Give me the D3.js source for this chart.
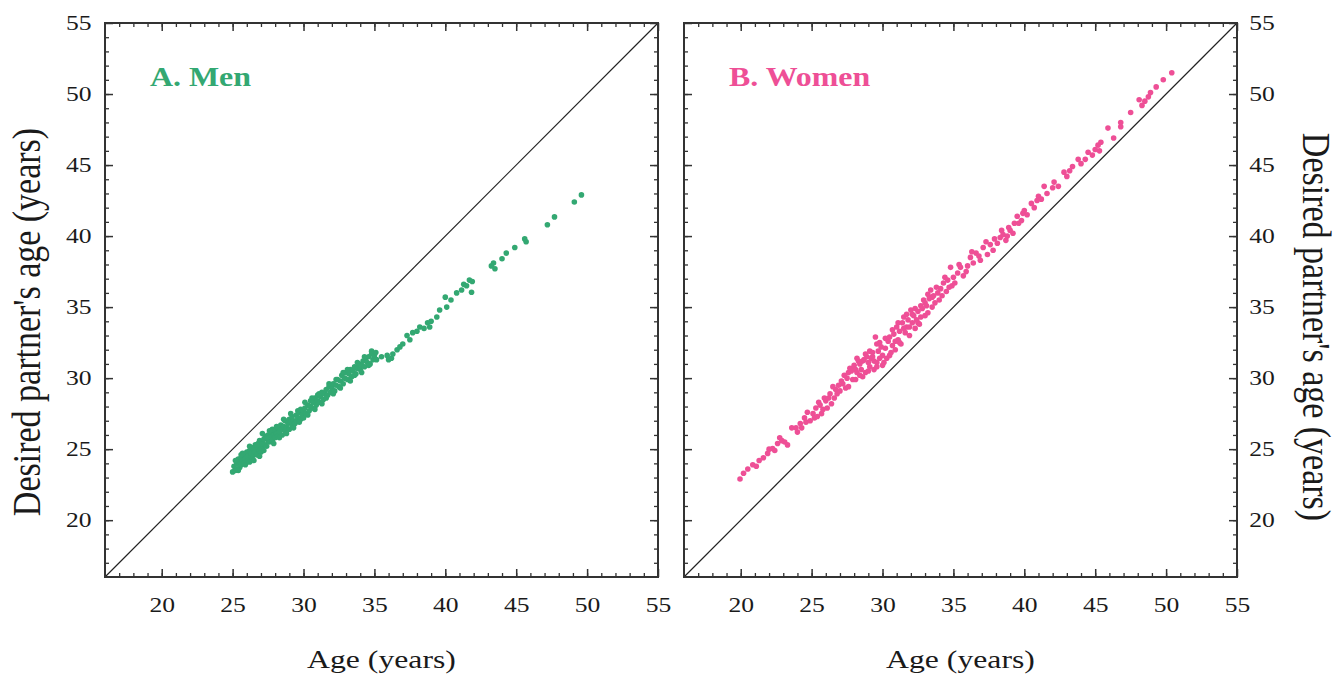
<!DOCTYPE html>
<html>
<head>
<meta charset="utf-8">
<script src="https://cdn.jsdelivr.net/npm/d3@7"></script>
<style>
  body { margin: 0; background: #fff; }
  svg { display: block; }
  text { font-family: "Liberation Serif", "Times New Roman", serif; fill: #1a1a1a; }
</style>
</head>
<body>
<div id="chart"></div>
<script>
// age of respondent, desired partner age
var menData = [
  [25.0,23.4],[25.1,23.8],[25.2,23.5],[25.3,24.0],[25.3,23.6],[25.4,24.3],[25.5,23.7],[25.5,24.1],
  [25.6,24.4],[25.6,23.9],[25.7,24.2],[25.8,24.6],[25.8,24.0],[25.9,24.3],[26.0,24.8],[26.0,24.1],[25.7,24.7],
  [26.1,24.5],[26.1,24.2],[26.2,24.9],[26.3,24.4],[26.3,24.7],[26.4,25.1],[26.4,24.3],[26.5,24.6],[26.5,25.0],
  [26.6,24.8],[26.6,25.3],[26.7,24.6],[26.8,25.0],[26.8,25.4],[26.9,24.9],[27.0,25.2],[27.0,24.8],[26.9,25.6],
  [27.1,25.4],[27.1,25.0],[27.2,25.7],[27.3,25.3],[27.3,25.9],[27.4,25.2],[27.5,25.6],[27.5,26.0],[27.1,26.1],
  [27.6,25.5],[27.7,25.9],[27.7,26.2],[27.8,25.6],[27.9,26.0],[28.0,25.8],[28.0,26.3],[27.8,26.4],
  [28.1,26.1],[28.2,25.9],[28.2,26.5],[28.3,26.2],[28.4,26.7],[28.5,26.0],[28.5,26.4],
  [28.6,26.6],[28.7,26.3],[28.7,27.0],[28.8,26.5],[28.9,26.8],[29.0,26.4],[29.0,27.1],
  [29.1,26.9],[29.2,26.6],[29.2,27.3],[29.3,27.0],[29.4,26.8],[29.5,27.4],[29.5,27.0],
  [29.6,27.2],[29.7,27.6],[29.8,27.1],[29.8,27.8],[29.9,27.4],[30.0,27.7],[30.0,27.2],
  [30.1,27.9],[30.2,27.5],[30.3,28.1],[30.4,27.7],[30.5,28.0],[30.5,28.4],
  [30.6,27.9],[30.7,28.3],[30.8,28.6],[30.9,28.1],[31.0,28.4],[31.0,28.8],
  [31.1,28.3],[31.2,28.7],[31.3,29.0],[31.4,28.5],[31.5,28.9],
  [31.6,29.2],[31.7,28.8],[31.8,29.4],[31.9,29.0],[32.0,29.3],
  [32.1,29.6],[32.2,29.1],[32.3,29.5],[32.4,29.9],[32.5,29.4],
  [32.6,29.8],[32.7,30.2],[32.8,29.6],[32.9,30.0],[33.0,30.4],
  [33.1,29.9],[33.2,30.3],[33.3,30.6],[33.4,30.1],[33.5,30.5],
  [33.6,30.8],[33.7,30.3],[33.8,30.7],[33.9,31.0],[34.0,30.6],
  [34.1,30.9],[34.2,31.2],[34.3,30.8],[34.4,31.4],[34.5,31.1],
  [34.6,31.5],[34.7,31.0],[34.8,31.7],[34.9,31.3],[35.0,31.6],
  [25.2,24.2],[25.4,23.5],[25.6,24.6],[25.9,23.9],[26.2,24.1],[26.2,25.2],[26.5,24.2],[26.7,25.3],
  [26.9,24.5],[27.2,24.9],[27.4,25.8],[27.6,26.3],[27.9,25.4],[28.1,26.6],[28.3,25.8],[28.6,27.1],
  [28.8,26.1],[29.1,27.5],[29.3,26.5],[29.6,27.7],[29.7,26.9],[30.1,28.3],[30.3,27.4],[30.6,28.6],
  [30.8,27.8],[31.1,28.9],[31.3,28.2],[31.6,28.6],[31.8,29.6],[32.1,28.9],[32.3,29.9],[32.6,29.3],
  [32.8,30.4],[33.1,30.6],[33.3,29.8],[33.6,30.2],[33.8,31.1],[34.1,30.4],[34.3,31.5],[34.6,30.9],
  [34.8,31.9],[35.1,31.8],
  [35.15,31.3],[35.5,31.5],[35.9,31.6],[36.0,31.3],[36.2,31.4],[36.3,31.7],[36.6,32.0],[36.8,32.2],
  [37.0,32.4],[37.3,33.0],[37.5,32.7],[37.7,33.2],[38.0,33.3],[38.2,33.6],[38.5,33.5],[38.75,33.9],
  [38.9,33.6],[39.0,34.0],[39.4,34.3],[39.6,34.8],[40.1,35.0],[40.0,35.7],[40.4,35.5],[40.8,36.0],
  [41.15,36.2],[41.3,36.6],[41.7,36.9],[41.85,36.05],[41.9,36.8],[41.5,36.5],[43.25,37.9],[43.5,37.7],
  [43.4,38.1],[44.0,38.4],[44.3,38.8],[44.9,39.2],[45.6,39.8],[45.7,39.6],[47.2,40.8],[47.7,41.35],
  [49.1,42.4],[49.6,42.9]
];

var womenData = [
  [19.95,22.9],[20.2,23.3],[20.5,23.6],[20.85,23.9],[21.1,23.8],[21.3,24.2],[21.6,24.4],[21.9,24.7],
  [22.0,25.0],[22.25,25.05],[22.4,24.9],[22.6,25.4],[22.75,25.8],[22.9,25.6],[23.1,25.5],[23.3,25.3],
  [23.6,26.5],[23.9,26.5],[24.0,26.2],[24.2,26.8],[24.3,26.5],[24.5,27.2],[24.6,26.9],[24.7,27.6],
  [24.9,27.0],[25.1,27.5],[25.2,27.2],[25.3,27.9],[25.4,27.3],[25.5,28.3],[25.6,28.1],[25.7,27.5],
  [25.8,27.8],[25.9,28.6],[26.0,28.4],[26.1,27.9],[26.2,28.6],[26.3,28.9],[26.4,28.2],[26.5,29.4],
  [26.6,28.6],[26.7,29.2],[26.8,28.9],[26.9,29.5],[27.0,29.1],[27.1,29.8],[27.2,29.6],[27.3,30.2],
  [27.4,29.3],[27.5,30.0],[27.6,29.4],[27.6,30.4],[27.7,30.7],[27.8,30.5],[27.9,29.9],[27.9,30.7],
  [28.0,30.9],[28.1,29.9],[28.1,30.6],[28.2,30.4],[28.2,31.4],[28.3,31.2],[28.4,31.0],[28.4,30.2],
  [28.5,30.6],[28.6,30.1],[28.6,31.2],[28.7,31.3],[28.8,30.4],[28.8,31.7],[28.9,31.5],[29.0,31.1],
  [29.0,30.5],[29.1,30.8],[29.1,31.9],[29.2,31.4],[29.3,31.8],[29.3,31.5],[29.4,30.6],[29.4,31.2],
  [29.5,32.9],[29.6,31.1],[29.6,32.4],[29.6,30.8],[29.7,31.9],[29.8,31.4],[29.8,32.5],[29.9,32.2],
  [30.0,31.6],[30.0,30.9],[30.1,31.1],[30.2,32.1],[30.2,32.8],[30.3,31.4],[30.4,32.6],[30.5,32.9],
  [30.5,31.6],[30.6,31.8],[30.7,32.3],[30.7,33.4],[30.8,33.1],[30.9,32.0],[30.9,32.6],[31.0,33.6],
  [31.1,32.7],[31.1,33.9],[31.2,33.3],[31.2,32.5],[31.3,32.4],[31.4,33.9],[31.5,34.3],[31.5,33.5],
  [31.6,33.2],[31.7,33.6],[31.7,34.5],[31.8,34.1],[31.9,33.0],[31.9,33.6],[32.0,34.8],[32.1,33.9],
  [32.1,34.5],[32.2,34.4],[32.3,33.5],[32.3,34.9],[32.4,34.1],[32.5,34.7],[32.5,33.9],[32.6,33.8],
  [32.7,34.3],[32.7,35.1],[32.8,34.9],[32.9,35.5],[33.0,34.4],[33.0,35.3],[33.1,35.1],[33.2,34.6],
  [33.2,35.9],[33.3,35.6],[33.4,36.2],[33.5,35.0],[33.5,35.7],[33.6,35.8],[33.7,35.3],[33.8,36.4],
  [33.9,36.0],[34.0,35.5],[34.1,36.3],[34.2,35.8],[34.3,36.7],[34.4,37.1],[34.5,36.1],[34.6,36.9],
  [34.7,36.4],[34.8,37.8],[34.9,36.5],[35.0,37.1],[35.1,36.7],[35.3,37.4],[35.4,38.0],[35.5,37.8],
  [35.7,37.2],[35.9,37.5],[36.0,37.9],[36.2,38.5],[36.3,38.9],[36.4,38.1],[36.6,38.8],[36.8,38.6],
  [36.9,38.3],[37.1,39.2],[37.3,39.6],[37.4,38.7],[37.6,39.4],[37.8,39.0],[37.9,39.8],[38.1,39.5],
  [38.3,39.9],[38.4,40.4],[38.5,40.1],[38.7,39.7],[38.8,40.0],[38.9,40.6],[39.0,40.4],[39.2,40.2],
  [39.3,40.9],[39.5,41.4],[39.6,40.9],[39.8,41.1],[39.9,41.6],
  [40.0,41.8],[40.2,41.5],[40.5,42.3],[40.7,42.0],[40.9,42.5],[41.0,42.8],[41.2,42.6],[41.4,43.5],
  [41.6,43.0],[42.0,43.4],[42.1,43.8],[42.4,43.5],[42.8,44.5],[43.0,44.2],[43.2,44.6],[43.4,44.9],
  [43.8,45.4],[44.0,45.1],[44.3,45.4],[44.5,45.9],[44.8,45.7],[45.0,46.1],[45.2,46.4],[45.3,46.0],
  [45.4,46.6],[45.9,47.6],[46.3,46.9],[46.8,48.0],[46.8,47.7],[47.5,48.7],[48.1,49.6],[48.3,49.2],
  [48.5,49.5],[48.75,49.8],[48.9,50.1],[49.3,50.5],[49.8,51.0],[50.4,51.5]
];

var axisDomain = [16, 55];
var majorTicks = [20, 25, 30, 35, 40, 45, 50, 55];
var minorTicks = d3.range(17, 55);

var width = 1342, height = 674;
var plotTop = 23, plotBottom = 577, side = 553;
var stretch = 1.22;

var svg = d3.select("#chart").append("svg")
    .attr("width", width).attr("height", height);

function drawPanel(left, data, color, title, labelSide) {
    var x = d3.scaleLinear().domain(axisDomain).range([left, left + side]);
    var y = d3.scaleLinear().domain(axisDomain).range([plotBottom, plotTop]);
    var g = svg.append("g");

    // ticks, all pointing inward
    function addAxis(axisFn, scale, tr, withLabels, pad) {
        g.append("g").attr("transform", tr)
            .call(axisFn(scale).tickValues(minorTicks).tickSize(-4).tickFormat(""))
            .call(function(s) { s.select(".domain").remove(); s.selectAll("line").attr("stroke", "#333").attr("stroke-width", 1.3); });
        var a = g.append("g").attr("transform", tr)
            .call(axisFn(scale).tickValues(majorTicks).tickSize(-8).tickPadding(pad)
                .tickFormat(withLabels ? d3.format("d") : ""));
        a.select(".domain").remove();
        a.selectAll("line").attr("stroke", "#333").attr("stroke-width", 1.5);
        a.selectAll("text").attr("font-size", 21).attr("fill", "#1a1a1a")
            .attr("transform", "scale(" + stretch + ",1)");
        if (!withLabels) a.selectAll("text").remove();
    }
    addAxis(d3.axisBottom, x, "translate(0," + plotBottom + ")", true, 20);
    addAxis(d3.axisTop, x, "translate(0," + plotTop + ")", false, 0);
    addAxis(d3.axisLeft, y, "translate(" + left + ",0)", labelSide == "left", 11);
    addAxis(d3.axisRight, y, "translate(" + (left + side) + ",0)", labelSide == "right", 10);

    // identity line
    g.append("line")
        .attr("x1", x(axisDomain[0])).attr("y1", y(axisDomain[0]))
        .attr("x2", x(axisDomain[1])).attr("y2", y(axisDomain[1]))
        .attr("stroke", "#222").attr("stroke-width", 1.2);

    g.append("g").selectAll("circle")
        .data(data)
        .enter().append("circle")
        .attr("cx", function(d) { return x(d[0]); })
        .attr("cy", function(d) { return y(d[1]); })
        .attr("r", 2.8)
        .attr("fill", color);

    g.append("rect")
        .attr("x", left).attr("y", plotTop)
        .attr("width", side).attr("height", plotBottom - plotTop)
        .attr("fill", "none").attr("stroke", "#333").attr("stroke-width", 2);

    g.append("text")
        .attr("transform", "translate(" + (left + 45) + ",86) scale(1.14,1)")
        .attr("font-size", 28).attr("font-weight", "bold")
        .style("fill", color)
        .text(title);

    g.append("text")
        .attr("transform", "translate(" + (left + side / 2) + ",668) scale(" + stretch + ",1)")
        .attr("text-anchor", "middle")
        .attr("font-size", 26)
        .text("Age (years)");

    var ty = 322;
    if (labelSide == "left") {
        g.append("text")
            .attr("transform", "translate(40," + ty + ") rotate(-90) scale(1,1.15)")
            .attr("text-anchor", "middle")
            .attr("font-size", 34)
            .text("Desired partner's age (years)");
    } else {
        g.append("text")
            .attr("transform", "translate(1303," + (ty + 5) + ") rotate(90) scale(1,1.15)")
            .attr("text-anchor", "middle")
            .attr("font-size", 34)
            .text("Desired partner's age (years)");
    }
}

drawPanel(105, menData, "#33a872", "A. Men", "left");
drawPanel(684, womenData, "#ee4f96", "B. Women", "right");
</script>
</body>
</html>
